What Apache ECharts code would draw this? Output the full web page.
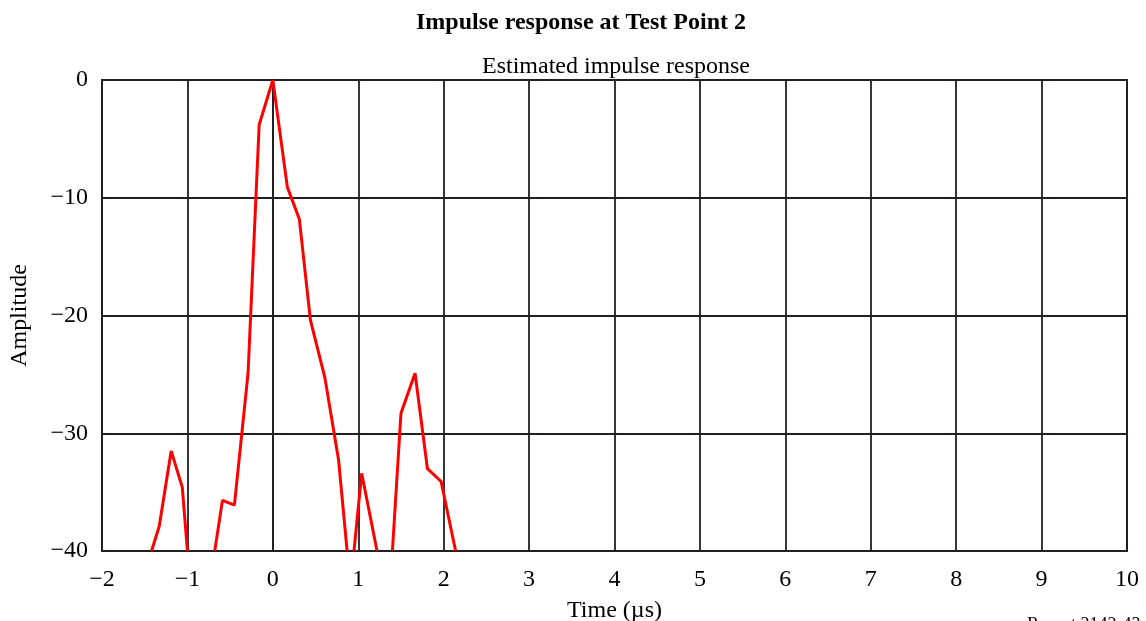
<!DOCTYPE html>
<html>
<head>
<meta charset="utf-8">
<script src="https://cdn.jsdelivr.net/npm/echarts@6/dist/echarts.min.js"></script>
<style>
html,body{margin:0;padding:0;background:#fff;}
#chart{width:1146px;height:621px;}
</style>
</head>
<body>
<div id="chart"></div>
<script>
var chartTitle = 'Impulse response at Test Point 2';
var chartSubtitle = 'Estimated impulse response';
var xAxisName = 'Time (µs)';
var yAxisName = 'Amplitude';
var footnote = 'Report 2142-43';

// Time in µs; null separates segments that drop below the -40 floor
var timeValues = [-1.42, -1.33, -1.19, -1.06, -1.00, null,
                  -0.68, -0.59, -0.45, -0.29, -0.16, 0.00, 0.17, 0.31, 0.44, 0.61, 0.77, 0.87, null,
                  0.95, 1.04, 1.22, null,
                  1.40, 1.50, 1.665, 1.81, 1.97, 2.14];
var amplitudeValues = [-40, -37.9, -31.5, -34.6, -40, null,
                       -40, -35.7, -36.1, -24.9, -3.8, 0, -9.1, -11.8, -20.4, -25.3, -32.3, -40, null,
                       -40, -33.4, -40, null,
                       -40, -28.3, -24.9, -33.0, -34.1, -40];

var seriesData = timeValues.map(function (t, i) {
  return (t === null) ? [null, null] : [t, amplitudeValues[i]];
});

var fontFamily = '"Liberation Serif", "DejaVu Serif", serif';
var dark = '#231f20';

var chart = echarts.init(document.getElementById('chart'));
chart.setOption({
  backgroundColor: '#fff',
  animation: false,
  title: [
    {
      text: chartTitle,
      left: 576, top: 6, textAlign: 'center',
      textStyle: {fontFamily: fontFamily, fontWeight: 'bold', fontSize: 24, color: '#000'}
    },
    {
      text: chartSubtitle,
      left: 611, top: 50, textAlign: 'center',
      textStyle: {fontFamily: fontFamily, fontWeight: 'normal', fontSize: 24, color: '#000'}
    }
  ],
  graphic: [{
    type: 'text', left: 1027, top: 616,
    style: {text: footnote, font: '18px "Liberation Serif", serif', fill: '#000'}
  }],
  grid: {left: 102, right: 19, top: 80, bottom: 70, show: true, borderColor: dark, borderWidth: 2,
         backgroundColor: 'transparent', containLabel: false, outerBoundsMode: 'none'},
  xAxis: {
    type: 'value', min: -2, max: 10, interval: 1,
    name: xAxisName, nameLocation: 'middle', nameGap: 48,
    nameTextStyle: {fontFamily: fontFamily, fontSize: 24, color: '#000'},
    axisLine: {show: true, lineStyle: {color: dark, width: 2}},
    axisTick: {show: false},
    axisLabel: {
      margin: 17, fontFamily: fontFamily, fontSize: 24, color: '#000',
      formatter: function (v) { return v < 0 ? '\u2212' + Math.abs(v) : String(v); }
    },
    splitLine: {show: true, lineStyle: {color: dark, width: 1.8}}
  },
  yAxis: {
    type: 'value', min: -40, max: 0, interval: 10,
    name: yAxisName, nameLocation: 'middle', nameGap: 70, nameRotate: 90,
    nameTextStyle: {fontFamily: fontFamily, fontSize: 24, color: '#000'},
    axisLine: {show: true, lineStyle: {color: dark, width: 2}},
    axisTick: {show: false},
    axisLabel: {
      margin: 14, fontFamily: fontFamily, fontSize: 24, color: '#000',
      formatter: function (v) { return v < 0 ? '\u2212' + Math.abs(v) : String(v); }
    },
    splitLine: {show: true, lineStyle: {color: dark, width: 1.8}}
  },
  series: [{
    type: 'line',
    data: seriesData,
    showSymbol: false,
    connectNulls: false,
    clip: true,
    lineStyle: {color: '#ff0000', width: 3},
    itemStyle: {color: '#ff0000'}
  }]
});
</script>
</body>
</html>
